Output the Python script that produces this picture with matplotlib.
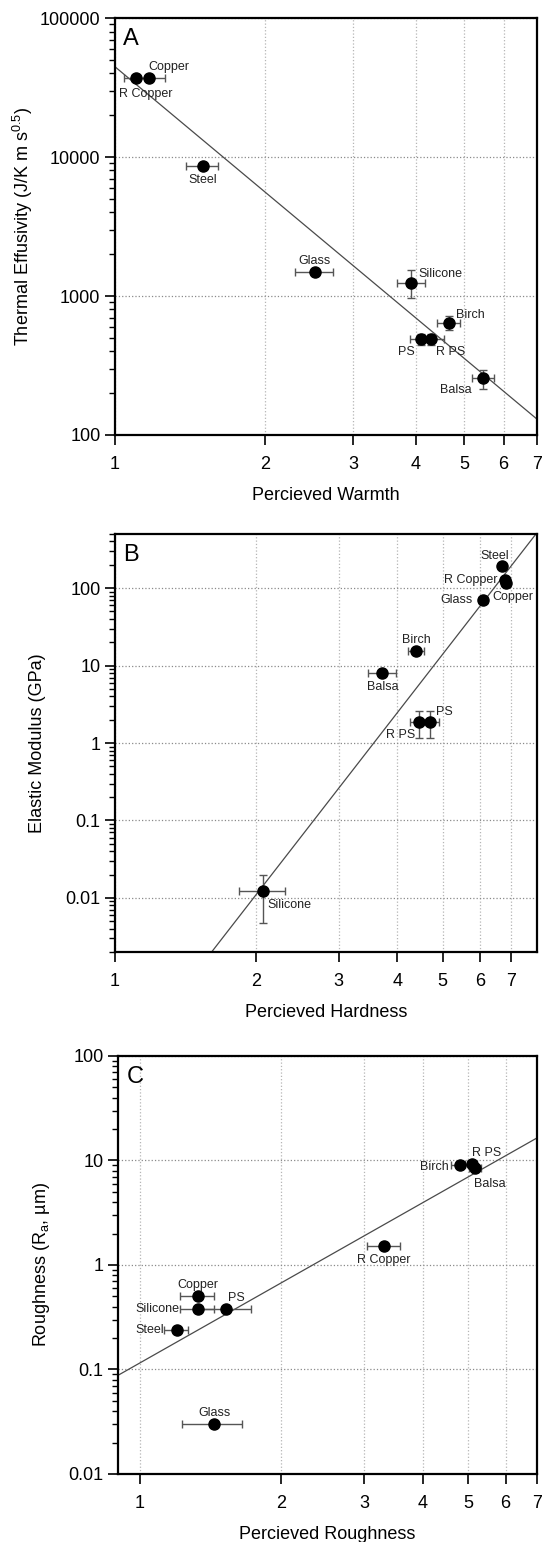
import numpy as np
import matplotlib
matplotlib.use("Agg")
import matplotlib.pyplot as plt
from matplotlib.ticker import FixedLocator, FuncFormatter, LogLocator, NullFormatter

plt.rcParams['font.family'] = ['Liberation Sans', 'DejaVu Sans']
plt.rcParams['mathtext.default'] = 'regular'

# ---- panel A: thermal effusivity vs perceived warmth
a_names = ["R Copper", "Copper", "Steel", "Glass", "Silicone", "Birch", "PS", "R PS", "Balsa"]
a_x = [1.10, 1.17, 1.50, 2.51, 3.92, 4.66, 4.10, 4.30, 5.46]
a_y = [37000, 37000, 8600, 1500, 1250, 640, 490, 490, 255]
a_xerr = [0.06, 0.09, 0.11, 0.22, 0.25, 0.25, 0.2, 0.25, 0.27]
a_yerr = [0, 0, 0, 0, 280, 75, 45, 45, 40]
a_fit = (44600, -3.0)
# label offsets in pixels (dx, dy up), alignment
a_lab = [(10, -16, 'center'), (20, 11, 'center'), (0, -14, 'center'), (0, 11, 'center'),
         (7, 9, 'left'), (7, 8, 'left'), (-15, -13, 'center'), (19, -13, 'center'),
         (-27, -12, 'center')]

# ---- panel B: elastic modulus vs perceived hardness
b_names = ["Steel", "R Copper", "Copper", "Glass", "Birch", "Balsa", "R PS", "PS", "Silicone"]
b_x = [6.69, 6.79, 6.84, 6.10, 4.39, 3.72, 4.45, 4.71, 2.07]
b_y = [195, 128, 118, 70, 15.2, 8.0, 1.87, 1.87, 0.0122]
b_xerr = [0.05, 0.08, 0.08, 0.12, 0.18, 0.25, 0.2, 0.2, 0.23]
b_yerr = [0, 0, 0, 0, 0, 0, 0.7, 0.7, 0.0075]
b_fit = (4.94e-5, 7.8)
b_lab = [(-7, 10, 'center'), (-7, 0, 'right'), (-14, -14, 'left'), (-10, 0, 'right'),
         (0, 11, 'center'), (0, -14, 'center'), (-4, -13, 'right'), (6, 10, 'left'),
         (4, -14, 'left')]

# ---- panel C: roughness vs perceived roughness
c_names = ["Birch", "R PS", "Balsa", "R Copper", "Copper", "Silicone", "PS", "Steel", "Glass"]
c_x = [4.81, 5.08, 5.17, 3.31, 1.33, 1.33, 1.53, 1.20, 1.44]
c_y = [9.1, 9.3, 8.5, 1.52, 0.505, 0.38, 0.38, 0.24, 0.03]
c_xerr = [0.22, 0.15, 0.15, 0.27, 0.11, 0.11, 0.2, 0.07, 0.21]
c_fit = (0.115, 2.55)
c_lab = [(-12, -2, 'right'), (15, 11, 'center'), (15, -16, 'center'), (0, -14, 'center'),
         (0, 11, 'center'), (-18, 0, 'right'), (10, 11, 'center'), (-13, 0, 'right'),
         (0, 11, 'center')]

fig = plt.figure(figsize=(5.42, 15.42), dpi=100)


def fmt(v, pos):
    return "%g" % v


def panel(rect, letter, names, x, y, xerr, yerr, fit, labs, xlim, ylim, xticks,
          xlabel, ylabel, ylabx):
    ax = fig.add_axes(rect)
    ax.set_xscale('log')
    ax.set_yscale('log')
    ax.set_xlim(*xlim)
    ax.set_ylim(*ylim)
    xs = np.linspace(xlim[0], xlim[1], 200)
    ax.plot(xs, fit[0] * xs ** fit[1], color='#4a4a4a', lw=0.9, zorder=2)
    ax.errorbar(x, y, xerr=xerr, yerr=yerr, fmt='o', color='black', ms=8,
                ecolor='#555555', elinewidth=1, capsize=3, capthick=1, zorder=3)
    for n, xi, yi, (dx, dy, ha) in zip(names, x, y, labs):
        ax.annotate(n, (xi, yi), xytext=(dx, dy), textcoords='offset pixels',
                    ha=ha, va='center', fontsize=9, color='#222222', zorder=4)
    ax.xaxis.set_major_locator(FixedLocator(xticks))
    ax.xaxis.set_major_formatter(FuncFormatter(fmt))
    ax.xaxis.set_minor_locator(FixedLocator([]))
    ax.yaxis.set_major_locator(LogLocator(base=10, numticks=20))
    ax.yaxis.set_major_formatter(FuncFormatter(fmt))
    ax.yaxis.set_minor_locator(LogLocator(base=10, subs=np.arange(2, 10), numticks=20))
    ax.yaxis.set_minor_formatter(NullFormatter())
    ax.grid(True, which='major', axis='x', ls=':', color='#b5b5b5', lw=0.9)
    ax.grid(True, which='major', axis='y', ls=':', color='#8a8a8a', lw=0.9)
    ax.set_axisbelow(True)
    ax.tick_params(which='major', direction='out', length=7, width=1.2, labelsize=13,
                   top=False, right=False)
    ax.tick_params(which='minor', direction='out', length=4, width=1, top=False, right=False)
    ax.tick_params(axis='x', pad=8)
    for s in ax.spines.values():
        s.set_linewidth(1.6)
    ax.set_xlabel(xlabel, fontsize=13, labelpad=10)
    ax.set_ylabel(ylabel, fontsize=13)
    ax.yaxis.set_label_coords(ylabx, 0.5)
    ax.text(0.02, 0.975, letter, transform=ax.transAxes, fontsize=17, va='top', ha='left')
    return ax


panel([0.2122, 0.7179, 0.7786, 0.2704], "A", a_names, a_x, a_y, a_xerr, a_yerr, a_fit, a_lab,
      (1, 7), (100, 100000), [1, 2, 3, 4, 5, 6, 7], "Percieved Warmth",
      r"Thermal Effusivity (J/K m s$^{0.5}$)", -0.19)
panel([0.2122, 0.3826, 0.7786, 0.2711], "B", b_names, b_x, b_y, b_xerr, b_yerr, b_fit, b_lab,
      (1, 7.95), (0.002, 500), [1, 2, 3, 4, 5, 6, 7], "Percieved Hardness",
      "Elastic Modulus (GPa)", -0.164)
panel([0.2177, 0.0441, 0.7731, 0.2711], "C", c_names, c_x, c_y, c_xerr, None, c_fit, c_lab,
      (0.9, 7), (0.01, 100), [1, 2, 3, 4, 5, 6, 7], "Percieved Roughness",
      r"Roughness (R$_a$, µm)", -0.157)

fig.savefig("out.png", dpi=100)
